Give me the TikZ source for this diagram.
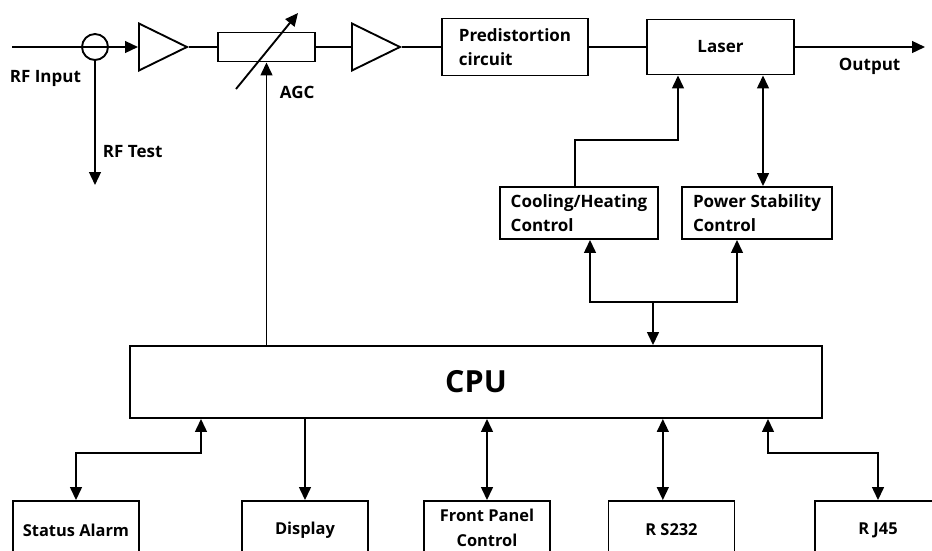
\documentclass[tikz,border=0pt]{standalone}
\usepackage{fontspec}
\setmainfont{Open Sans}
\usetikzlibrary{shapes.geometric, arrows.meta, positioning}

\begin{document}
\begin{tikzpicture}[x=0.03cm, y=-0.03cm, line width=1.6pt,
	bloco/.style={draw, inner sep=0pt, align=left, font=\bfseries\fontsize{14.5}{20.5}\selectfont},
	baixo/.style={bloco, align=center, minimum width=3.78cm, minimum height=1.74cm, font=\bfseries\fontsize{14}{22}\selectfont},
	amp/.style={draw, isosceles triangle, isosceles triangle stretches, shape border rotate=0, minimum width=1.41cm, minimum height=1.44cm, inner sep=0pt},
	rotulo/.style={inner sep=0pt, font=\bfseries\fontsize{14.5}{16}\selectfont},
	arr/.style={-{Triangle[length=11pt,width=10pt]}},
	dbl/.style={{Triangle[length=11pt,width=10pt]}-{Triangle[length=11pt,width=10pt]}}]
	\clip (0,0) rectangle (932,550);
	
	%% Cadeia de RF
	\node [draw, circle, minimum size=0.78cm, inner sep=0pt] (tap) at (95,47) {};
	\coordinate (rfin) at (12,47);
	\coordinate (rftest) at (95,185);
	\node [amp, anchor=west] (amp1) at (138,47) {};
	\node [bloco, minimum width=2.91cm, minimum height=0.87cm] (agc) at (266.5,47) {};
	\node [amp, anchor=west] (amp2) at (351,47) {};
	\node [bloco, minimum width=4.38cm, minimum height=1.71cm] (pre) at (515,47) {Predistortion\\circuit};
	\node [bloco, align=center, minimum width=4.41cm, minimum height=1.65cm] (laser) at (720.5,47) {Laser};
	\coordinate (out) at (925,47);
	
	\draw [arr] (rfin) -- (amp1.west);
	\draw [arr] (tap.south) -- (rftest);
	\draw (amp1.apex) -- (agc.west);
	\draw (agc.east) -- (amp2.west);
	\draw (amp2.apex) -- (pre.west);
	\draw (pre.east) -- (laser.west);
	\draw [arr] (laser.east) -- (out);
	
	%% Seta do AGC
	\draw [arr] (236,89) -- (298,13);
	
	\node [rotulo, anchor=west] (lblin) at (9,78) {RF Input};
	\node [rotulo, anchor=west] (lbltest) at (102,152) {RF Test};
	\node [rotulo, anchor=west] (lblagc) at (279,92) {AGC};
	\node [rotulo, anchor=west] (lblout) at (838,66) {Output};
	
	%% Controles do laser
	\node [bloco, minimum width=4.74cm, minimum height=1.56cm] (cool) at (579,213) {Cooling/Heating\\Control};
	\node [bloco, minimum width=4.5cm, minimum height=1.56cm] (power) at (757,213) {Power Stability\\Control};
	
	\coordinate (ch) at (678,140);
	\coordinate (cb) at ([xshift=-0.12cm]cool.north);
	\draw [arr] (cb) |- (ch) -- (ch |- laser.south);
	\coordinate (ps) at ([xshift=0.18cm]power.north);
	\draw [dbl] (ps |- laser.south) -- (ps);
	
	%% CPU
	\node [draw, minimum width=20.76cm, minimum height=2.16cm, font=\bfseries\fontsize{26}{30}\selectfont] (cpu) at (476,382) {CPU};
	
	\coordinate (bus) at (653,302);
	\coordinate (cs) at ([xshift=0.33cm]cool.south);
	\coordinate (pw) at ([xshift=-0.6cm]power.south);
	\draw [arr] (bus) -| (cs);
	\draw [arr] (bus) -| (pw);
	\draw [arr] (bus) -- (bus |- cpu.north);
	\draw [arr] (agc.south |- cpu.north) -- (agc.south);
	
	%% Perifericos
	\node [baixo] (alarm) at (76,530) {Status Alarm};
	\node [baixo] (display) at (305,530) {Display};
	\node [baixo, minimum height=1.62cm, font=\bfseries\fontsize{14}{21}\selectfont] (painel) at (487,528) {Front Panel\\Control};
	\node [baixo] (rs) at (671.5,530) {R S232};
	\node [baixo] (rj) at (878,530) {R J45};
	
	\coordinate (sa) at (201,453);
	\draw [dbl] (sa |- cpu.south) -- (sa) -| (alarm.north);
	\draw [arr] (display.north |- cpu.south) -- (display.north);
	\draw [dbl] (painel.north |- cpu.south) -- (painel.north);
	\coordinate (rsx) at ([xshift=-0.26cm]rs.north);
	\draw [dbl] (rsx |- cpu.south) -- (rsx);
	\coordinate (rjx) at (768,453);
	\draw [dbl] (rjx |- cpu.south) -- (rjx) -| (rj.north);
\end{tikzpicture}
\end{document}
